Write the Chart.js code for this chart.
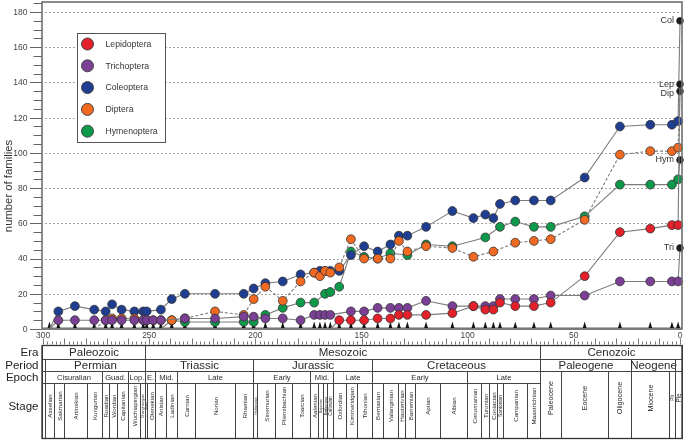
<!DOCTYPE html>
<html><head><meta charset="utf-8">
<script src="https://cdn.jsdelivr.net/npm/chart.js@4.4.1/dist/chart.umd.min.js"></script>
<style>html,body{margin:0;padding:0;background:#fff;}#wrap{width:685px;height:440px;position:relative;}</style>
</head><body><div id="wrap"><canvas id="c" width="685" height="440"></canvas></div>
<script>
// ---------- DATA ----------
const ages = [297, 292.8, 285.0, 275.9, 270.5, 267.5, 263.0, 257.0, 252.8, 251.2, 248.1, 244.5, 239.4, 233.2, 219.0,
  205.5, 200.8, 195.3, 187.1, 178.7, 172.3, 169.6, 167.2, 164.7, 160.5, 155.0, 148.8, 142.4, 136.4, 132.4, 128.4,
  119.6, 107.2, 97.3, 91.7, 87.9, 84.8, 77.6, 68.8, 60.9, 44.9, 28.3, 14.0, 3.8, 0.9, 0];
const _ = null;
const lepidoptera = [_,_,_,_,_,_,_,_,_,_,_,_,_,_,_, _,_,_,_,_,_,_,_,0,5,5,5,6,6,8,8, 8,9,13,11,11,15,13,13,15,30,55,57,59,59,139];
const trichoptera = [0,5,5,5,5,5,5,5,5,5,5,5,_,6,6, 7,7,6,6,5,8,8,8,8,_,10,10,12,12,12,12, 16,13,13,13,13,17,17,17,19,19,27,27,27,27,46];
const coleoptera  = [0,10,13,11,10,14,11,10,10,10,_,11,17,20,20, 20,23,26,27,31,32,33,33,33,33,42,47,44,48,53,53, 58,67,63,65,63,71,73,73,73,86,115,116,116,118,175];
const diptera     = [_,_,_,0,5,6,6,6,5,5,5,5,5,6,10, 8,17,24,16,27,32,30,33,32,35,51,40,40,40,50,44, 47,46,41,_,44,_,49,50,51,62,99,101,101,103,135];
const hymenoptera = [_,_,_,_,_,_,_,_,_,_,_,0,5,4,4, 4,4,8,12,15,15,_,20,21,24,44,41,40,43,_,42, 48,47,_,52,_,58,61,58,58,64,82,82,82,85,96];

const seriesNames = ['Lepidoptera','Trichoptera','Coleoptera','Diptera','Hymenoptera'];
const seriesShort = ['Lep','Tri','Col','Dip','Hym'];
const seriesValues = [lepidoptera, trichoptera, coleoptera, diptera, hymenoptera];

const xTickValues = [300, 250, 200, 150, 100, 50, 0];
const yTickValues = [0, 20, 40, 60, 80, 100, 120, 140, 160, 180];

// geologic time scale (Ma)
const eraNames = ['Paleozoic','Mesozoic','Cenozoic'];
const eraBounds = [301, 252.2, 66, -2];
const periodNames = ['', 'Permian','Triassic','Jurassic','Cretaceous','Paleogene','Neogene',''];
const periodBounds = [301, 298.9, 252.2, 201.3, 145, 66, 23.03, 2.58, -2];
const epochNames = ['', 'Cisuralian','Guad.','Lop.','E.','Mid.','Late','Early','Mid.','Late','Early','Late'];
const epochBounds = [301, 298.9, 272.3, 259.8, 252.2, 247.2, 237, 201.3, 174.1, 163.5, 145, 100.5, 66];
const cenoEpochNames = ['Paleocene','Eocene','Oligocene','Miocene','Pli','Ple'];
const cenoEpochBounds = [66, 56, 33.9, 23.03, 5.33, 2.58, -2];
const stageNames = ['', 'Asselian','Sakmarian','Artinskian','Kungurian','Roadian','Wordian','Capitanian','Wuchiapingian','Changhsingian',
  'Induan','Olenekian','Anisian','Ladinian','Carnian','Norian','Rhaetian',
  'Hettangian','Sinemurian','Pliensbachian','Toarcian','Aalenian','Bajocian','Bathonian','Callovian','Oxfordian','Kimmeridgian','Tithonian',
  'Berriasian','Valanginian','Hauterivian','Barremian','Aptian','Albian','Cenomanian','Turonian','Coniacian','Santonian','Campanian','Maastrichtian'];
const stageBounds = [301, 298.9, 295.0, 290.1, 279.3, 272.3, 268.8, 265.1, 259.8, 254.2, 252.2,
  251.2, 247.2, 242, 237, 228.4, 209.5, 201.3,
  199.3, 190.8, 182.7, 174.1, 170.3, 168.3, 166.1, 163.5, 157.3, 152.1, 145,
  139.8, 132.9, 129.4, 125, 113, 100.5, 93.9, 89.8, 86.3, 83.6, 72.1, 66];
const rowLabels = ['Era','Period','Epoch','Stage'];

// ---------- STYLE ----------
const FAM = '"Liberation Sans", Arial, Helvetica, sans-serif';
const seriesColors = ['#e4202a', '#7b3f96', '#1f3e92', '#f26a22', '#0c9a4a'];
const drawOrder = [0, 1, 3, 2, 4];

const datasets = seriesValues.map((vals, si) => {
  const pts = [];
  vals.forEach((v, i) => { if (v !== null) pts.push({x: ages[i], y: v}); });
  const last = pts.length - 1;
  const radius = pts.map((p, i) => (i === 0 && p.y === 0) ? 0 : (i === last ? 3.4 : 4.4));
  const bg = pts.map((p, i) => i === last ? '#1b1b1b' : seriesColors[si]);
  return {
    label: seriesNames[si], data: pts, showLine: true, clip: false,
    borderColor: '#7d7d7d', borderWidth: 1.1, borderDash: si === 3 ? [3, 2] : [],
    pointRadius: radius, pointBackgroundColor: bg, pointBorderColor: '#333', pointBorderWidth: 0.8,
    order: drawOrder[si]
  };
});

function clampPx(s, a, v) { return Math.min(a.right, Math.max(a.left, s.getPixelForValue(v))); }
function line(ctx, x0, y0, x1, y1) { ctx.beginPath(); ctx.moveTo(x0, y0); ctx.lineTo(x1, y1); ctx.stroke(); }

const TB = {top: 345, era: 359, period: 371, epoch: 383, bottom: 438};

function drawRow(ctx, xs, a, names, bounds, y0, y1, opt) {
  for (let i = 0; i < names.length; i++) {
    const x0 = Math.round(clampPx(xs, a, bounds[i])) + 0.5;
    const x1 = Math.round(clampPx(xs, a, bounds[i + 1])) + 0.5;
    ctx.strokeRect(x0, y0 + 0.5, x1 - x0, y1 - y0);
    const n = names[i]; if (!n) continue;
    const w = clampPx(xs, a, bounds[i + 1]) - clampPx(xs, a, bounds[i]);
    ctx.fillStyle = '#2a2a2a';
    if (opt.vertical) {
      const fs = Math.max(2.5, Math.min(opt.size, w * 0.85));
      ctx.save(); ctx.translate((x0 + x1) / 2 + 0.3, opt.ty); ctx.rotate(-Math.PI / 2);
      ctx.font = fs.toFixed(2) + 'px ' + FAM; ctx.textAlign = 'center'; ctx.textBaseline = 'middle';
      ctx.fillText(n, 0, 0); ctx.restore();
    } else {
      ctx.font = opt.size + 'px ' + FAM; ctx.textAlign = 'center'; ctx.textBaseline = 'middle';
      ctx.fillText(n, (x0 + x1) / 2, (y0 + y1) / 2 + 1);
    }
  }
}

const deco = {
  id: 'deco',
  beforeDatasetsDraw(chart) {
    const {ctx, chartArea: a, scales: {x, y}} = chart;
    ctx.save();
    // dotted gridlines
    ctx.strokeStyle = '#a5a5a5'; ctx.lineWidth = 1; ctx.setLineDash([2, 2]);
    yTickValues.forEach(v => { if (v === 0) return; const py = Math.round(y.getPixelForValue(v)) + 0.5; line(ctx, a.left + 3, py, a.right - 3, py); });
    ctx.setLineDash([]);
    // baseline
    ctx.strokeStyle = '#9a9a9a'; ctx.lineWidth = 2.5;
    line(ctx, a.left, a.bottom - 0.5, a.right, a.bottom - 0.5);
    // sample triangles
    ctx.fillStyle = '#111';
    ages.forEach(age => {
      if (age === 0) return;
      const px = x.getPixelForValue(age), by = a.bottom - 1;
      ctx.beginPath(); ctx.moveTo(px - 1.9, by); ctx.lineTo(px + 1.9, by); ctx.lineTo(px, by - 6.5); ctx.closePath(); ctx.fill();
    });
    ctx.restore();
  },
  afterDatasetsDraw(chart) {
    const {ctx, chartArea: a, scales: {x, y}} = chart;
    ctx.save();
    // extant labels
    const items = seriesValues.map((vals, si) => ({t: seriesShort[si], py: y.getPixelForValue(vals[vals.length - 1])}))
      .sort((p, q) => p.py - q.py);
    let prev = -100;
    ctx.font = '9px ' + FAM; ctx.fillStyle = '#333'; ctx.textAlign = 'right'; ctx.textBaseline = 'middle';
    const px0 = x.getPixelForValue(0);
    items.forEach(it => { const ly = Math.max(it.py, prev + 9.5); prev = ly; ctx.fillText(it.t, px0 - 6, ly); });
    // legend
    const lx = 77.5, ly = 33.5, lw = 88, lh = 109;
    ctx.fillStyle = '#fff'; ctx.fillRect(lx, ly, lw, lh);
    ctx.strokeStyle = '#555'; ctx.lineWidth = 1; ctx.strokeRect(lx, ly, lw, lh);
    seriesNames.forEach((n, i) => {
      const cy = 44 + i * 21.8;
      ctx.beginPath(); ctx.arc(87.5, cy, 6, 0, Math.PI * 2);
      ctx.fillStyle = seriesColors[i]; ctx.fill(); ctx.strokeStyle = '#444'; ctx.lineWidth = 1; ctx.stroke();
      ctx.fillStyle = '#333'; ctx.font = '8.7px ' + FAM; ctx.textAlign = 'left'; ctx.textBaseline = 'middle';
      ctx.fillText(n, 105.5, cy + 0.5);
    });
    ctx.restore();
  },
  afterDraw(chart) {
    const {ctx, chartArea: a, scales: {x, y}} = chart;
    ctx.save();
    // frame
    ctx.strokeStyle = '#6e6e6e'; ctx.lineWidth = 1.6;
    ctx.strokeRect(a.left, a.top, a.right - a.left, a.bottom - a.top);
    // y ticks (major + minor) and labels
    ctx.strokeStyle = '#666'; ctx.lineWidth = 1;
    for (let v = 0; v <= 185; v += 5) {
      const py = Math.round(y.getPixelForValue(v)) + 0.5;
      line(ctx, a.left - (v % 20 === 0 ? 12 : 8.5), py, a.left, py);
    }
    ctx.font = '8.5px ' + FAM; ctx.fillStyle = '#444'; ctx.textAlign = 'right'; ctx.textBaseline = 'middle';
    yTickValues.forEach(v => ctx.fillText(String(v), 27.5, y.getPixelForValue(v) + 0.5));
    // y title
    ctx.save(); ctx.translate(9, 186); ctx.rotate(-Math.PI / 2);
    ctx.font = '11.3px ' + FAM; ctx.fillStyle = '#333'; ctx.textAlign = 'center'; ctx.textBaseline = 'middle';
    ctx.fillText('number of families', 0, 0); ctx.restore();
    // x ruler ticks
    ctx.strokeStyle = '#555'; ctx.lineWidth = 0.8;
    for (let v = 0; v <= 300; v += 2) {
      const px = Math.round(x.getPixelForValue(v)) + 0.5;
      line(ctx, px, TB.top - 0.5, px, TB.top - 0.5 - (v % 10 === 0 ? 6 : 3));
    }
    // table
    ctx.strokeStyle = '#444'; ctx.lineWidth = 1;
    drawRow(ctx, x, a, eraNames, eraBounds, TB.top, TB.era, {size: 11.5});
    drawRow(ctx, x, a, periodNames, periodBounds, TB.era, TB.period, {size: 11.5});
    drawRow(ctx, x, a, epochNames, epochBounds, TB.period, TB.epoch, {size: 7.6});
    drawRow(ctx, x, a, stageNames, stageBounds, TB.epoch, TB.bottom, {vertical: true, size: 6.2, ty: 406});
    drawRow(ctx, x, a, cenoEpochNames, cenoEpochBounds, TB.period, TB.bottom, {vertical: true, size: 7.2, ty: 398});
    ctx.lineWidth = 1.3; ctx.strokeStyle = '#333';
    ctx.strokeRect(a.left, TB.top + 0.5, a.right - a.left, TB.bottom - TB.top);
    // row labels
    ctx.fillStyle = '#222'; ctx.font = '11.5px ' + FAM; ctx.textAlign = 'right'; ctx.textBaseline = 'middle';
    const rowY = [(TB.top + TB.era) / 2 + 1, (TB.era + TB.period) / 2 + 1, (TB.period + TB.epoch) / 2 + 1, 407];
    rowLabels.forEach((t, i) => ctx.fillText(t, 38.5, rowY[i]));
    ctx.restore();
  }
};

new Chart(document.getElementById('c'), {
  type: 'scatter',
  data: {datasets},
  options: {
    responsive: false, animation: false,
    layout: {autoPadding: false, padding: {left: 0, right: 3, top: 2, bottom: 95}},
    plugins: {legend: {display: false}, tooltip: {enabled: false}},
    scales: {
      x: {
        type: 'linear', reverse: true, min: -0.94, max: 300.5,
        afterBuildTicks: s => { s.ticks = xTickValues.map(v => ({value: v})); },
        afterFit: s => { s.height = 16; s.paddingLeft = 0; s.paddingRight = 0; },
        grid: {display: false, drawTicks: false}, border: {display: false},
        ticks: {font: {size: 8.5, family: FAM}, color: '#444', padding: 1.5, maxRotation: 0, autoSkip: false}
      },
      y: {
        type: 'linear', min: 0, max: 185.7,
        afterBuildTicks: s => { s.ticks = yTickValues.map(v => ({value: v})); },
        afterFit: s => { s.width = 42; s.paddingTop = 0; s.paddingBottom = 0; },
        grid: {display: false, drawTicks: false}, border: {display: false},
        ticks: {display: false}
      }
    }
  },
  plugins: [deco]
});
</script>
</body></html>
